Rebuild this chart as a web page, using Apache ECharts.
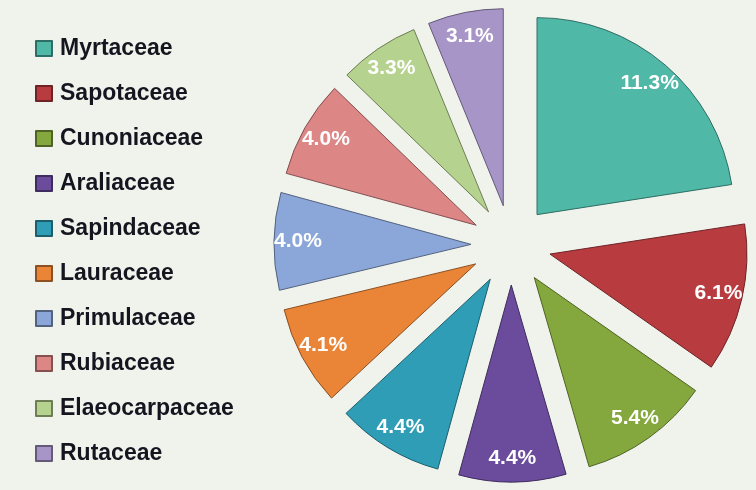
<!DOCTYPE html>
<html>
<head>
<meta charset="utf-8">
<script src="https://cdn.jsdelivr.net/npm/echarts@6/dist/echarts.min.js"></script>
<style>
  html, body { margin: 0; padding: 0; background: #f0f2ec; }
  #chart { width: 756px; height: 490px; }
</style>
</head>
<body>
<div id="chart"></div>
<script>
// Family shares (percent of all stems)
const families = ['Myrtaceae', 'Sapotaceae', 'Cunoniaceae', 'Araliaceae', 'Sapindaceae',
  'Lauraceae', 'Primulaceae', 'Rubiaceae', 'Elaeocarpaceae', 'Rutaceae'];
const shares = [11.3, 6.1, 5.4, 4.4, 4.4, 4.1, 4.0, 4.0, 3.3, 3.1];
const fills = ['#4fb8a7', '#b83c3f', '#84a83d', '#6b4b9c', '#2f9db6',
  '#ea8538', '#8ba6d8', '#dc8686', '#b6d28f', '#a895c8'];
const edges = ['#2e6e64', '#6e2326', '#4f6424', '#3f2c5e', '#1c5e6d',
  '#8c5022', '#53637f', '#845050', '#6d7e56', '#655978'];

const CENTER = [511, 245];
const RADIUS = 197;
const OFFSET = 40;

const sliceData = families.map((name, i) => ({
  name,
  value: shares[i],
  selected: true,
  itemStyle: { color: fills[i], borderColor: edges[i], borderWidth: 1 }
}));

// transparent ring carrying the labels near the outer rim
const labelData = families.map((name, i) => ({
  name,
  value: shares[i],
  selected: true,
  itemStyle: { color: 'rgba(0,0,0,0)' }
}));

const chart = echarts.init(document.getElementById('chart'), null, { renderer: 'canvas' });
chart.setOption({
  backgroundColor: '#f0f2ec',
  animation: false,
  legend: {
    orient: 'vertical',
    left: 35,
    top: 37,
    padding: 0,
    data: families,
    icon: 'rect',
    itemWidth: 16,
    itemHeight: 15,
    itemGap: 22,
    selectedMode: false,
    textStyle: {
      fontFamily: 'Liberation Sans, Arial, sans-serif',
      fontSize: 23,
      fontWeight: 'bold',
      color: '#15151f',
      lineHeight: 23,
      padding: [0, 0, 0, 3]
    }
  },
  series: [
    {
      type: 'pie',
      center: CENTER,
      radius: [0, RADIUS],
      startAngle: 90,
      clockwise: true,
      selectedMode: 'multiple',
      selectedOffset: OFFSET,
      silent: true,
      label: { show: false },
      labelLine: { show: false },
      emphasis: { disabled: true },
      data: sliceData
    },
    {
      type: 'pie',
      center: CENTER,
      radius: [143, RADIUS],
      startAngle: 90,
      clockwise: true,
      selectedMode: 'multiple',
      selectedOffset: OFFSET,
      silent: true,
      legendHoverLink: false,
      emphasis: { disabled: true },
      labelLine: { show: false },
      label: {
        show: true,
        position: 'inside',
        formatter: p => p.value.toFixed(1) + '%',
        color: '#ffffff',
        fontFamily: 'Liberation Sans, Arial, sans-serif',
        fontSize: 21,
        fontWeight: 'bold'
      },
      data: labelData
    }
  ]
});
</script>
</body>
</html>
